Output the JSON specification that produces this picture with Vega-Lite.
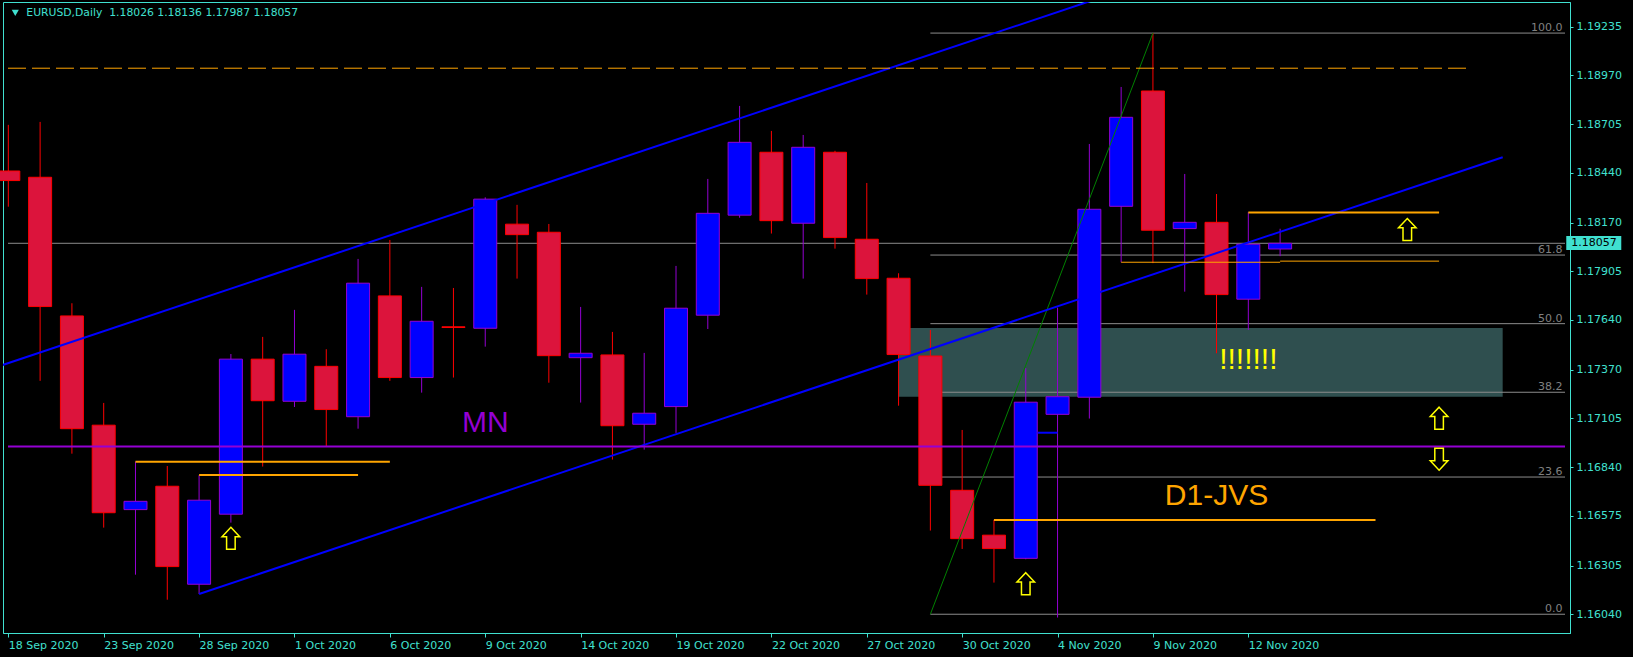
{
  "$schema": "https://vega.github.io/schema/vega-lite/v6.json",
  "width": 1567,
  "height": 631,
  "autosize": {"type": "none"},
  "padding": {"left": 3, "top": 2, "right": 63, "bottom": 24},
  "background": "#000000",
  "config": {
    "view": {"stroke": "#40E0D0", "strokeWidth": 1},
    "axis": {"grid": false, "title": null}
  },
  "datasets": {
    "candles": [
      {"d": "18 Sep 2020", "i": 0, "o": 1.18450, "h": 1.18701, "l": 1.18256, "c": 1.18398},
      {"d": "21 Sep 2020", "i": 1, "o": 1.18416, "h": 1.18717, "l": 1.17309, "c": 1.17713},
      {"d": "22 Sep 2020", "i": 2, "o": 1.17662, "h": 1.17731, "l": 1.16913, "c": 1.17049},
      {"d": "23 Sep 2020", "i": 3, "o": 1.17068, "h": 1.17189, "l": 1.16511, "c": 1.16592},
      {"d": "24 Sep 2020", "i": 4, "o": 1.16609, "h": 1.16870, "l": 1.16255, "c": 1.16654},
      {"d": "25 Sep 2020", "i": 5, "o": 1.16736, "h": 1.16846, "l": 1.16119, "c": 1.16299},
      {"d": "28 Sep 2020", "i": 6, "o": 1.16203, "h": 1.16796, "l": 1.16150, "c": 1.16660},
      {"d": "29 Sep 2020", "i": 7, "o": 1.16584, "h": 1.17455, "l": 1.16538, "c": 1.17427},
      {"d": "30 Sep 2020", "i": 8, "o": 1.17427, "h": 1.17548, "l": 1.16843, "c": 1.17201},
      {"d": "1 Oct 2020", "i": 9, "o": 1.17198, "h": 1.17695, "l": 1.17167, "c": 1.17454},
      {"d": "2 Oct 2020", "i": 10, "o": 1.17388, "h": 1.17481, "l": 1.16951, "c": 1.17153},
      {"d": "5 Oct 2020", "i": 11, "o": 1.17114, "h": 1.17972, "l": 1.17049, "c": 1.17840},
      {"d": "6 Oct 2020", "i": 12, "o": 1.17771, "h": 1.18075, "l": 1.17309, "c": 1.17327},
      {"d": "7 Oct 2020", "i": 13, "o": 1.17327, "h": 1.17820, "l": 1.17245, "c": 1.17633},
      {"d": "8 Oct 2020", "i": 14, "o": 1.17603, "h": 1.17814, "l": 1.17327, "c": 1.17599},
      {"d": "9 Oct 2020", "i": 15, "o": 1.17595, "h": 1.18307, "l": 1.17495, "c": 1.18297},
      {"d": "12 Oct 2020", "i": 16, "o": 1.18161, "h": 1.18266, "l": 1.17865, "c": 1.18104},
      {"d": "13 Oct 2020", "i": 17, "o": 1.18117, "h": 1.18162, "l": 1.17299, "c": 1.17446},
      {"d": "14 Oct 2020", "i": 18, "o": 1.17435, "h": 1.17711, "l": 1.17191, "c": 1.17459},
      {"d": "15 Oct 2020", "i": 19, "o": 1.17450, "h": 1.17575, "l": 1.16881, "c": 1.17065},
      {"d": "16 Oct 2020", "i": 20, "o": 1.17073, "h": 1.17461, "l": 1.16935, "c": 1.17133},
      {"d": "19 Oct 2020", "i": 21, "o": 1.17169, "h": 1.17934, "l": 1.17026, "c": 1.17704},
      {"d": "20 Oct 2020", "i": 22, "o": 1.17666, "h": 1.18407, "l": 1.17591, "c": 1.18220},
      {"d": "21 Oct 2020", "i": 23, "o": 1.18210, "h": 1.18804, "l": 1.18196, "c": 1.18606},
      {"d": "22 Oct 2020", "i": 24, "o": 1.18552, "h": 1.18668, "l": 1.18110, "c": 1.18180},
      {"d": "23 Oct 2020", "i": 25, "o": 1.18166, "h": 1.18646, "l": 1.17865, "c": 1.18579},
      {"d": "26 Oct 2020", "i": 26, "o": 1.18552, "h": 1.18560, "l": 1.18028, "c": 1.18088},
      {"d": "27 Oct 2020", "i": 27, "o": 1.18079, "h": 1.18385, "l": 1.17778, "c": 1.17865},
      {"d": "28 Oct 2020", "i": 28, "o": 1.17867, "h": 1.17894, "l": 1.17174, "c": 1.17452},
      {"d": "29 Oct 2020", "i": 29, "o": 1.17444, "h": 1.17586, "l": 1.16495, "c": 1.16741},
      {"d": "30 Oct 2020", "i": 30, "o": 1.16714, "h": 1.17042, "l": 1.16395, "c": 1.16451},
      {"d": "2 Nov 2020", "i": 31, "o": 1.16470, "h": 1.16553, "l": 1.16212, "c": 1.16397},
      {"d": "3 Nov 2020", "i": 32, "o": 1.16344, "h": 1.17378, "l": 1.16339, "c": 1.17193},
      {"d": "4 Nov 2020", "i": 33, "o": 1.17127, "h": 1.17707, "l": 1.16022, "c": 1.17223},
      {"d": "5 Nov 2020", "i": 34, "o": 1.17220, "h": 1.18597, "l": 1.17104, "c": 1.18242},
      {"d": "6 Nov 2020", "i": 35, "o": 1.18258, "h": 1.18907, "l": 1.17954, "c": 1.18742},
      {"d": "9 Nov 2020", "i": 36, "o": 1.18885, "h": 1.19200, "l": 1.17949, "c": 1.18128},
      {"d": "10 Nov 2020", "i": 37, "o": 1.18137, "h": 1.18434, "l": 1.17794, "c": 1.18171},
      {"d": "11 Nov 2020", "i": 38, "o": 1.18171, "h": 1.18325, "l": 1.17459, "c": 1.17778},
      {"d": "12 Nov 2020", "i": 39, "o": 1.17753, "h": 1.18226, "l": 1.17586, "c": 1.18052},
      {"d": "13 Nov 2020", "i": 40, "o": 1.18026, "h": 1.18136, "l": 1.17987, "c": 1.18057}
    ],
    "zone": [{"i": 28, "i2": 47, "p": 1.17597, "p2": 1.17222}],
    "fib": [
      {"t": "100.0", "p": 1.19200, "i": 29, "i2": 48.96},
      {"t": "61.8", "p": 1.17993, "i": 29, "i2": 48.96},
      {"t": "50.0", "p": 1.17620, "i": 29, "i2": 48.96},
      {"t": "38.2", "p": 1.17247, "i": 29, "i2": 48.96},
      {"t": "23.6", "p": 1.16786, "i": 29, "i2": 48.96},
      {"t": "0.0", "p": 1.16040, "i": 29, "i2": 48.96}
    ],
    "bid": [{"p": 1.18057, "i": -0.01, "i2": 48.96}],
    "mnline": [{"p": 1.16952, "i": -0.01, "i2": 48.96}],
    "dashed": [{"p": 1.19009, "i": -0.01, "i2": 46.0}],
    "orangeThick": [
      {"p": 1.16869, "i": 4, "i2": 12},
      {"p": 1.16797, "i": 6, "i2": 11},
      {"p": 1.16553, "i": 31, "i2": 43},
      {"p": 1.18225, "i": 39, "i2": 45}
    ],
    "orangeThin": [
      {"p": 1.17954, "i": 35, "i2": 40},
      {"p": 1.17960, "i": 40, "i2": 45}
    ],
    "blueSeg": [{"p": 1.17027, "i": 32.375, "i2": 33}],
    "channel": [
      {"line": "upper", "i": -1, "p": 1.17348},
      {"line": "upper", "i": 35, "p": 1.19430},
      {"line": "lower", "i": 6, "p": 1.16150},
      {"line": "lower", "i": 47, "p": 1.18525}
    ],
    "fibDiag": [{"i": 29, "p": 1.16040}, {"i": 36, "p": 1.19200}],
    "arrows": [
      {"dir": "up", "i": 7, "p": 1.16453},
      {"dir": "up", "i": 32, "p": 1.16206},
      {"dir": "up", "i": 44, "p": 1.18132},
      {"dir": "up", "i": 45, "p": 1.17106},
      {"dir": "down", "i": 45, "p": 1.16883}
    ],
    "notes": [
      {"t": "MN", "i": 15, "p": 1.17079},
      {"t": "D1-JVS", "i": 38, "p": 1.16682},
      {"t": "!!!!!!!", "i": 39, "p": 1.17422}
    ],
    "header": [{"t": "EURUSD,Daily\u00a0 1.18026 1.18136 1.17987 1.18057", "i": 0.566, "p": 1.19310}],
    "tri": [{"i": 0.219, "p": 1.19310}],
    "priceBox": [{"i": 49.0, "i2": 50.73, "p": 1.18097, "p2": 1.18021}],
    "priceText": [{"t": "1.18057", "i": 49.16, "p": 1.18057}]
  },
  "encoding": {
    "x": {"field": "i", "type": "quantitative", "scale": {"domain": [-0.01, 48.96], "nice": false, "zero": false},
      "axis": {"orient": "bottom", "values": [0, 3, 6, 9, 12, 15, 18, 21, 24, 27, 30, 33, 36, 39],
        "labelExpr": "['18 Sep 2020','23 Sep 2020','28 Sep 2020','1 Oct 2020','6 Oct 2020','9 Oct 2020','14 Oct 2020','19 Oct 2020','22 Oct 2020','27 Oct 2020','30 Oct 2020','4 Nov 2020','9 Nov 2020','12 Nov 2020'][round(datum.value/3)]",
        "tickSize": 4, "labelPadding": 2, "labelAlign": "left", "labelBaseline": "top", "labelFlush": false, "labelOverlap": false,
        "labelColor": "#40E0D0", "tickColor": "#40E0D0", "domainColor": "#40E0D0", "labelFont": "DejaVu Sans", "labelFontSize": 11, "title": null, "grid": false}},
    "y": {"field": "p", "type": "quantitative", "scale": {"domain": [1.15938, 1.19369], "nice": false, "zero": false},
      "axis": {"orient": "right", "values": [1.16040, 1.16305, 1.16575, 1.16840, 1.17105, 1.17370, 1.17640, 1.17905, 1.18170, 1.18440, 1.18705, 1.18970, 1.19235],
        "format": ".5f", "tickSize": 3, "labelPadding": 3, "labelFlush": false, "labelOverlap": false,
        "labelColor": "#40E0D0", "tickColor": "#40E0D0", "domainColor": "#40E0D0", "labelFont": "DejaVu Sans", "labelFontSize": 11, "title": null, "grid": false}}
  },
  "layer": [
    {
      "data": {"name": "zone"},
      "mark": {"type": "rect", "color": "#2F4F4F", "clip": true},
      "encoding": {"x2": {"field": "i2"}, "y2": {"field": "p2"}}
    },
    {
      "data": {"name": "bid"},
      "mark": {"type": "rule", "color": "#8C8C8C", "strokeWidth": 1, "clip": true},
      "encoding": {"x2": {"field": "i2"}}
    },
    {
      "data": {"name": "fib"},
      "mark": {"type": "rule", "color": "#8C8C8C", "strokeWidth": 1, "clip": true},
      "encoding": {"x2": {"field": "i2"}}
    },
    {
      "data": {"name": "fib"},
      "mark": {"type": "text", "color": "#808080", "font": "DejaVu Sans", "fontSize": 11, "align": "right", "baseline": "alphabetic", "dy": -2},
      "encoding": {
        "x": {"datum": 48.88, "type": "quantitative"},
        "text": {"field": "t"}
      }
    },
    {
      "data": {"name": "candles"},
      "mark": {"type": "rule", "strokeWidth": 1},
      "encoding": {
        "y": {"field": "l", "type": "quantitative"},
        "y2": {"field": "h"},
        "color": {"condition": {"test": "datum.c >= datum.o", "value": "#9400D3"}, "value": "#FF0000"}
      }
    },
    {
      "data": {"name": "candles"},
      "mark": {"type": "bar", "width": 23, "strokeWidth": 1},
      "encoding": {
        "y": {"field": "o", "type": "quantitative"},
        "y2": {"field": "c"},
        "fill": {"condition": {"test": "datum.c >= datum.o", "value": "#0000FF"}, "value": "#DC143C"},
        "stroke": {"condition": {"test": "datum.c >= datum.o", "value": "#9400D3"}, "value": "#FF0000"}
      }
    },
    {
      "data": {"name": "blueSeg"},
      "mark": {"type": "rule", "color": "#0000FF", "strokeWidth": 2},
      "encoding": {"x2": {"field": "i2"}}
    },
    {
      "data": {"name": "fibDiag"},
      "mark": {"type": "line", "color": "#008000", "strokeWidth": 1, "clip": true},
      "encoding": {}
    },
    {
      "data": {"name": "channel"},
      "mark": {"type": "line", "color": "#0000FF", "strokeWidth": 2, "clip": true},
      "encoding": {"detail": {"field": "line"}}
    },
    {
      "data": {"name": "mnline"},
      "mark": {"type": "rule", "color": "#9400D3", "strokeWidth": 2, "clip": true},
      "encoding": {"x2": {"field": "i2"}}
    },
    {
      "data": {"name": "dashed"},
      "mark": {"type": "rule", "color": "#FFA500", "strokeWidth": 1, "strokeDash": [18, 6], "clip": true},
      "encoding": {"x2": {"field": "i2"}}
    },
    {
      "data": {"name": "orangeThick"},
      "mark": {"type": "rule", "color": "#FFA500", "strokeWidth": 2},
      "encoding": {"x2": {"field": "i2"}}
    },
    {
      "data": {"name": "orangeThin"},
      "mark": {"type": "rule", "color": "#FFA500", "strokeWidth": 1},
      "encoding": {"x2": {"field": "i2"}}
    },
    {
      "data": {"name": "arrows"},
      "transform": [{"filter": "datum.dir === 'up'"}],
      "mark": {"type": "point", "shape": "M0,-1L0.8,-0.15L0.39,-0.15L0.39,1L-0.39,1L-0.39,-0.15L-0.8,-0.15Z", "size": 484, "filled": true, "fill": "#000000", "stroke": "#FFFF00", "strokeWidth": 1.5, "opacity": 1},
      "encoding": {}
    },
    {
      "data": {"name": "arrows"},
      "transform": [{"filter": "datum.dir === 'down'"}],
      "mark": {"type": "point", "shape": "M0,1L0.8,0.15L0.39,0.15L0.39,-1L-0.39,-1L-0.39,0.15L-0.8,0.15Z", "size": 484, "filled": true, "fill": "#000000", "stroke": "#FFFF00", "strokeWidth": 1.5, "opacity": 1},
      "encoding": {}
    },
    {
      "data": {"name": "notes"},
      "mark": {"type": "text", "font": "Liberation Sans", "fontSize": 30, "align": "center", "baseline": "middle"},
      "encoding": {
        "text": {"field": "t"},
        "color": {"condition": [
          {"test": "datum.t === 'MN'", "value": "#9400D3"},
          {"test": "datum.t === 'D1-JVS'", "value": "#FFA500"}
        ], "value": "#FFFF00"}
      }
    },
    {
      "data": {"name": "header"},
      "mark": {"type": "text", "font": "DejaVu Sans", "fontSize": 10.8, "align": "left", "baseline": "middle", "color": "#40E0D0"},
      "encoding": {"text": {"field": "t"}}
    },
    {
      "data": {"name": "tri"},
      "mark": {"type": "point", "shape": "triangle-down", "size": 50, "filled": true, "color": "#40E0D0", "opacity": 1},
      "encoding": {}
    },
    {
      "data": {"name": "priceBox"},
      "mark": {"type": "rect", "color": "#40E0D0", "clip": false},
      "encoding": {"x2": {"field": "i2"}, "y2": {"field": "p2"}}
    },
    {
      "data": {"name": "priceText"},
      "mark": {"type": "text", "font": "DejaVu Sans", "fontSize": 11, "align": "left", "baseline": "middle", "color": "#000000", "clip": false},
      "encoding": {"text": {"field": "t"}}
    }
  ]
}
